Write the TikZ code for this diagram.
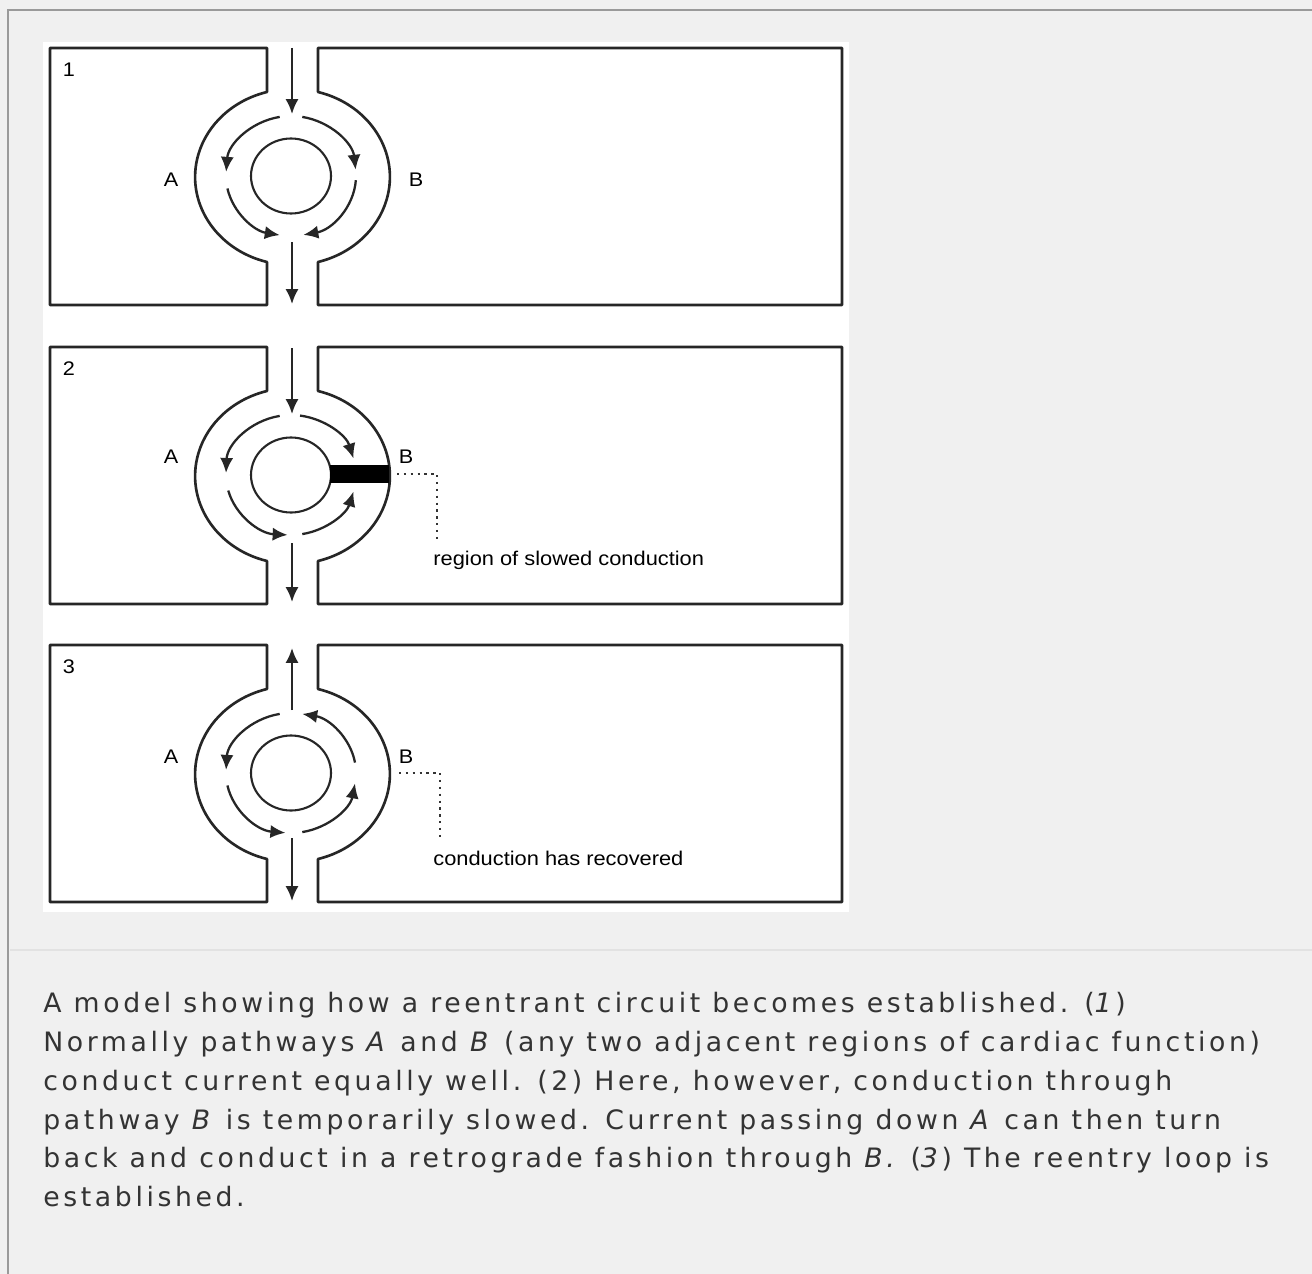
\documentclass[tikz,border=0pt]{standalone}
\usepackage{fontspec}
\usetikzlibrary{arrows.meta}
\newfontfamily\figfont[FakeStretch=1.1]{Liberation Sans}
\newfontfamily\capfont[LetterSpace=13.5]{DejaVu Sans}
\definecolor{pagegray}{HTML}{F0F0F0}
\definecolor{rulegray}{HTML}{E2E2E2}
\definecolor{framegray}{HTML}{9A9A9A}
\definecolor{captext}{HTML}{333333}
\tikzset{
  wall/.style={line width=1.5pt, black!85, line join=round},
  ring/.style={line width=1.2pt, black!85},
  flow/.style={line width=1.3pt, black!85, -{Latex[length=8.5pt,width=7.5pt]}},
  leader/.style={line width=1.3pt, black!80, dash pattern=on 1.3pt off 2.6pt},
  lbl/.style={font=\figfont\fontsize{11.2}{13}\selectfont, inner sep=0pt},
  note/.style={font=\figfont\fontsize{11.3}{13}\selectfont, inner sep=0pt, anchor=west},
}
\begin{document}
\begin{tikzpicture}[x=0.02cm, y=-0.02cm]
\fill[pagegray] (0,0) rectangle (1312,1274);
\useasboundingbox (0,0) rectangle (1312,1274);
\draw[framegray, line width=1.2pt] (8,1274) -- (8,10) -- (1312,10);
\fill[white] (43,42) rectangle (849,912);
\draw[rulegray, line width=1.6pt] (10,950) -- (1312,950);

% the three panels share the tissue outline
\foreach \top/\num/\ly/\bx in {48/1/132/416, 347/2/110/406, 645/3/112/406} {
  \begin{scope}[shift={(0,\top)}]
    \draw[wall] (267,214) arc[start angle=105, end angle=255, x radius=97, y radius=88]
      -- (267,0) -- (50,0) -- (50,257) -- (267,257) -- cycle;
    \draw[wall] (318,44) arc[start angle=-75, end angle=75, x radius=97, y radius=88]
      -- (318,257) -- (842,257) -- (842,0) -- (318,0) -- cycle;
    \draw[ring] (291,128) ellipse[x radius=40, y radius=37.5];
    \node[lbl] (num\num) at (69,22) {\num};
    \node[lbl] (A\num) at (171,\ly) {A};
    \node[lbl] (B\num) at (\bx,\ly) {B};
  \end{scope}
}

% panel 1
\begin{scope}[shift={(0,48)}]
  \draw[flow] (292,0) -- (292,66);
  \draw[flow] (292,194) -- (292,256);
  \foreach \a/\b in {-100/-176, -80/-6, 168/100, 4/79}
    \draw[flow] (291,128) ++(\a:65 and 60) arc[start angle=\a, end angle=\b, x radius=65, y radius=60];
\end{scope}

% panel 2
\begin{scope}[shift={(0,347)}]
  \draw[flow] (292,1) -- (292,67);
  \draw[flow] (292,196) -- (292,255);
  \foreach \a/\b in {-100/-178, -82/-16, 165/93, 80/16}
    \draw[flow] (291,128) ++(\a:65 and 60) arc[start angle=\a, end angle=\b, x radius=65, y radius=60];
  \fill[black] (330,118) rectangle (389,136);
  \coordinate (dot2a) at (397,127);
  \coordinate (dot2b) at (437,195);
  \draw[leader] (dot2a) -| (dot2b);
  \node[note] (slow) at (433,213) {region of slowed conduction};
\end{scope}

% panel 3
\begin{scope}[shift={(0,645)}]
  \draw[flow] (292,65) -- (292,3);
  \draw[flow] (292,193) -- (292,256);
  \foreach \a/\b in {-100/-177, -10/-80, 168/95, 80/10}
    \draw[flow] (291,128) ++(\a:65 and 60) arc[start angle=\a, end angle=\b, x radius=65, y radius=60];
  \coordinate (dot3a) at (399,128);
  \coordinate (dot3b) at (440,193);
  \draw[leader] (dot3a) -| (dot3b);
  \node[note] (recov) at (433,213) {conduction has recovered};
\end{scope}

\node[anchor=base west, align=left, inner sep=0pt, text=captext,
  font=\capfont\fontsize{15.2}{22.1}\selectfont] (caption) at (43,1206.7)
  {A model showing how a reentrant circuit becomes established. (\textit{1})\\
   Normally pathways \textit{A} and \textit{B} (any two adjacent regions of cardiac function)\\
   conduct current equally well. (2) Here, however, conduction through\\
   pathway \textit{B} is temporarily slowed. Current passing down \textit{A} can then turn\\
   back and conduct in a retrograde fashion through \textit{B.} (\textit{3}) The reentry loop is\\
   established.};
\end{tikzpicture}
\end{document}
